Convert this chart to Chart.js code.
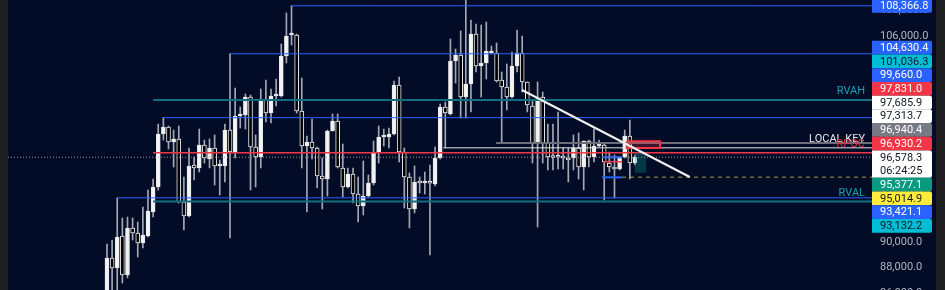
<!DOCTYPE html>
<html>
<head>
<meta charset="utf-8">
<script src="https://cdn.jsdelivr.net/npm/chart.js@4.4.1/dist/chart.umd.min.js"></script>
<style>
html,body{margin:0;padding:0;background:#020c27;overflow:hidden}
#wrap{width:945px;height:290px;position:relative}
</style>
</head>
<body>
<div id="wrap"><canvas id="btc"></canvas></div>
<script>
// candles (oldest first)
const opens = [85472,88740,87962,90452,87417,91075,90686,89908,90452,92320,
  94266,98390,98935,97768,98001,93098,92009,95978,95744,97534,
  96445,97301,95900,95900,98701,96989,99791,99869,101269,97378,
  96600,101114,100024,101347,101347,104460,106094,106094,100180,97456,
  97768,97301,95122,94888,98624,99402,95744,94266,95277,93721,
  92787,93565,94577,96912,98157,98157,98390,102203,96989,95044,
  92554,94655,94577,94577,94499,96522,100491,99947,104071,104538,
  101269,102281,106172,103682,103915,104694,104694,102592,102048,101269,
  103682,104694,102437,100569,97690,101269,97690,96600,96600,96522,
  96522,96522,97301,95822,97845,96600,97456,97534,96133,95822,
  95666,96600,98234,96133];
const highs = [89830,90141,93421.1,91853,91931,91853,91542,92709,94032,94888,
  99168,99660,99013,98701,99013,95044,97301,96600,98779,97923,
  98001,98312,96367,99168,104630.4,101970,100491,101503,101425,98312,
  101892,102592,101892,102670,105394,107806,108366.8,106172,102748,98234,
  99557,97378,96522,98701,99947,99947,97612,95744,95744,95044,
  96290,95200,97845,99013,98779,98857,102515,102826,97301,95355,
  95900,95044,95433,95978,97378,100725,100880,105783,105005,106406,
  109207,107262,106950,106872,107106,105238,105472,103215,103838,104771,
  106483,106016,102437,101036,102437,101659,99168,99168,100102,97301,
  97301,98312,98468,97845,97923,98779,97923,97690,96989,96756,
  96600,98701,99480,96756];
const lows = [84694,85083,85861,86795,87184,90141,88818,89519,90375,91931,
  94032,97923,97223,95822,93021,90919,91931,94810,95433,96133,
  95744,94421,93643,94655,90297,96522,98857,98779,94032,94266,
  95744,99324,99246,100569,101269,103915,105316,100024,95744,92320,
  96445,94188,92554,93565,98624,95744,93487,94188,93021,91542,
  92087,93487,94421,96133,97456,97301,98312,96211,92631,91075,
  92242,93799,93721,88974,94343,96445,97313.7,99869,102359,99635,
  99635,100102,103215,101269,102670,104616,102437,97685.9,100258,101192,
  103215,101659,100102,96133,91153,96133,95589,95589,95666,95666,
  94655,95589,94888,94032,95822,96211,97378,93254,95433,93410,
  95589,96522,94888,95978];
const closes = [88740,87962,90375,87417,91075,90686,89908,90530,92398,94266,
  98390,98935,97768,98001,93098,92009,95900,95744,97534,96522,
  97301,95900,95978,98701,96989,99791,99947,101269,97378,96600,
  101114,100024,101347,101425,104460,106016,106172,100180,97456,97768,
  97301,95122,94888,98624,99402,95822,94266,95277,93721,92787,
  93565,94577,96912,98157,98234,98390,102203,96989,95044,92554,
  94655,94577,94655,94560,96522,100491,100024,104071,104538,101269,
  102281,106172,103682,103915,104849,104849,102515,102048,101269,103682,
  104694,102437,100647,97690,101114,97690,96600,96560,96580,96510,
  96367,97301,95822,97845,96600,97456,97612,96211,95822,95666,
  96600,98234,96133,96578.3];

// price axis grid values
const axisTicks = [86000, 88000, 90000, 92000, 94000, 96000, 98000, 100000, 102000, 104000, 106000, 108000];

// horizontal levels: price and the candle index where each one starts
const levelPrices = [108366.8, 104630.4, 101036.3, 99660.0, 97685.9, 97313.7, 96930.2, 93421.1, 93132.2];
const levelStarts = [36, 24, 9, 11, 75.9, 65.6, 9, 2, 9];
const levelLook = [['#2962ff',1],['#2962ff',1],['#0f6f80',2],['#2962ff',1],['#6b6e78',2],['#e6e6e6',1],['#f23645',1.5],['#2962ff',1],['#0f6f80',2]];

const lastPrice = 96578.3;
const countdown = '06:24:25';
const targetPrice = 95014.9;
const targetStart = 100.5;

// trend line drawn over the last leg
const trendX = [80.96, 113.7];
const trendY = [101814, 95044];

// position-tool boxes [x1, x2, top, bottom]
const redBox = [101.4, 107.9, 97831.0, 97301];
const tealBox = [103, 105.2, 96930.2, 95377.1];
const blueBox = [96.6, 100.5, 96578.3, 95014.9];
const blueBoxMid = 96230;

// price axis tags
const tagPrices = [108366.8, 104630.4, 101036.3, 99660.0, 97831.0, 97685.9, 97313.7, 96940.4, 96930.2, 96578.3, 95377.1, 95014.9, 93421.1, 93132.2];
const tagFill = ['#2962ff','#2962ff','#00bcd4','#2962ff','#f23645','#ffffff','#ffffff','#787b86','#f23645','#ffffff','#089981','#ffeb3b','#2962ff','#00bcd4'];
const tagInk  = ['#fff','#fff','#131722','#fff','#fff','#131722','#131722','#fff','#fff','#131722','#fff','#131722','#fff','#131722'];

// level captions
const noteTexts = ['RVAH', 'LOCAL KEY', 'RPOC', 'RVAL'];
const notePrices = [101036.3, 97313.7, 96930.2, 93132.2];
const noteInk = ['#1f9fb4', '#e6e6e6', '#d8323f', '#1f9fb4'];

const X_MIN = -19.31, X_MAX = 149.24;
const Y_MIN = 86250, Y_MAX = 108818;

const fmt = v => v.toLocaleString('en-US', {minimumFractionDigits: 1, maximumFractionDigits: 1});

const idx = opens.map((_, i) => i);
const up = idx.map(i => closes[i] >= opens[i]);

function seg(x1, x2, p, color, width, dash) {
  return {type: 'line', data: [{x: x1, y: p}, {x: x2, y: p}], borderColor: color, borderWidth: width,
    borderDash: dash || [], pointRadius: 0, fill: false, order: 1};
}
function box(b, fillColor, lineColor, width) {
  return {type: 'line', data: [{x: b[0], y: b[2]}, {x: b[1], y: b[2]}, {x: b[1], y: b[3]}, {x: b[0], y: b[3]}, {x: b[0], y: b[2]}],
    borderColor: lineColor, borderWidth: width, backgroundColor: fillColor, fill: 'shape', pointRadius: 0, order: 1,
    borderJoinStyle: 'miter'};
}

const datasets = [
  {
    type: 'bar', data: idx.map(i => ({x: i, y: [lows[i], highs[i]]})),
    backgroundColor: 'rgba(205,208,215,0.8)', borderWidth: 0, barThickness: 1, grouped: false, order: 3
  },
  {
    type: 'bar', data: idx.map(i => ({x: i, y: [opens[i], closes[i]]})),
    backgroundColor: idx.map(i => up[i] ? '#f4f4f4' : '#000000'), borderColor: '#e8e8e8',
    borderWidth: 1, borderSkipped: false, barThickness: 4, minBarLength: 2, grouped: false, order: 2
  },
  seg(X_MIN, X_MAX, lastPrice, 'rgba(150,156,168,0.9)', 1, [1, 2]),
  seg(targetStart, X_MAX, targetPrice, 'rgba(255,235,59,0.45)', 1.5, [4, 4]),
  box(tealBox, 'rgba(0,150,136,0.32)', 'rgba(0,0,0,0)', 0),
  box(redBox, 'rgba(242,54,69,0.25)', '#f23645', 2),
  seg(blueBox[0], blueBox[1], blueBox[2], '#2962ff', 2),
  seg(blueBox[0], blueBox[1], blueBox[3], '#2962ff', 2),
  seg(blueBox[0] + 0.3, blueBox[1], blueBoxMid, '#f23645', 1.5),
  {type: 'line', data: [{x: trendX[0], y: trendY[0]}, {x: trendX[1], y: trendY[1]}], borderColor: '#f0f0f0',
    borderWidth: 2, pointRadius: 0, fill: false, order: 0}
];
levelPrices.forEach((p, k) => datasets.push(seg(levelStarts[k], X_MAX, p, levelLook[k][0], levelLook[k][1])));

const backdrop = {
  id: 'backdrop',
  beforeDraw(chart) {
    const c = chart.ctx, a = chart.chartArea, ys = chart.scales.y;
    c.save();
    c.fillStyle = '#020c27';
    c.fillRect(0, 0, chart.width, chart.height);
    c.fillStyle = '#1f1f21';
    c.fillRect(0, 0, a.left, chart.height);
    c.fillRect(ys.right, 0, chart.width - ys.right, chart.height);
    c.restore();
  }
};

const notes = {
  id: 'notes',
  afterDatasetsDraw(chart) {
    const c = chart.ctx, ys = chart.scales.y, a = chart.chartArea;
    c.save();
    c.font = '11px Roboto';
    c.textAlign = 'right';
    c.textBaseline = 'middle';
    noteTexts.forEach((t, k) => {
      c.fillStyle = noteInk[k];
      c.fillText(t, a.right - 7, ys.getPixelForValue(notePrices[k]) - 8.5);
    });
    c.restore();
  }
};

const tags = {
  id: 'tags',
  afterDraw(chart) {
    const c = chart.ctx, ys = chart.scales.y, x0 = chart.chartArea.right, w = 60, h = 13.7;
    const n = tagPrices.length, cur = tagPrices.indexOf(lastPrice);
    const cy = [];
    cy[cur] = ys.getPixelForValue(lastPrice);
    let top = cy[cur] - h / 2;
    for (let i = cur - 1; i >= 0; i--) {
      cy[i] = Math.min(ys.getPixelForValue(tagPrices[i]), top - h / 2);
      top = cy[i] - h / 2;
    }
    let bot = cy[cur] - h / 2 + 2 * h;
    for (let i = cur + 1; i < n; i++) {
      cy[i] = Math.max(ys.getPixelForValue(tagPrices[i]), bot + h / 2);
      bot = cy[i] + h / 2;
    }
    c.save();
    c.font = '11px Roboto';
    c.textAlign = 'left';
    c.textBaseline = 'middle';
    for (let i = 0; i < n; i++) {
      const hh = i === cur ? 2 * h : h;
      c.fillStyle = tagFill[i];
      c.beginPath();
      c.roundRect(x0, cy[i] - h / 2, w, hh, [0, 2, 2, 0]);
      c.fill();
      c.fillStyle = tagInk[i];
      c.fillText(fmt(tagPrices[i]), x0 + 8, cy[i] + 0.5);
      if (i === cur) c.fillText(countdown, x0 + 8, cy[i] + h);
    }
    c.restore();
  }
};

new Chart('btc', {
  type: 'bar',
  data: {datasets: datasets},
  options: {
    responsive: true,
    maintainAspectRatio: false,
    animation: false,
    devicePixelRatio: 1,
    events: [],
    layout: {padding: {left: 8, right: 9, top: 0, bottom: 0}},
    plugins: {legend: {display: false}, tooltip: {enabled: false}},
    scales: {
      x: {type: 'linear', min: X_MIN, max: X_MAX, offset: false, display: false},
      y: {
        position: 'right', min: Y_MIN, max: Y_MAX,
        grid: {display: false, drawTicks: false},
        border: {display: false},
        ticks: {padding: 8, color: '#b2b5be', font: {family: 'Roboto', size: 11}, callback: v => fmt(v)},
        afterBuildTicks(s) { s.ticks = axisTicks.map(v => ({value: v})); },
        afterFit(s) { s.width = 64; s.paddingTop = 0; s.paddingBottom = 0; }
      }
    }
  },
  plugins: [backdrop, notes, tags]
});
</script>
</body>
</html>
